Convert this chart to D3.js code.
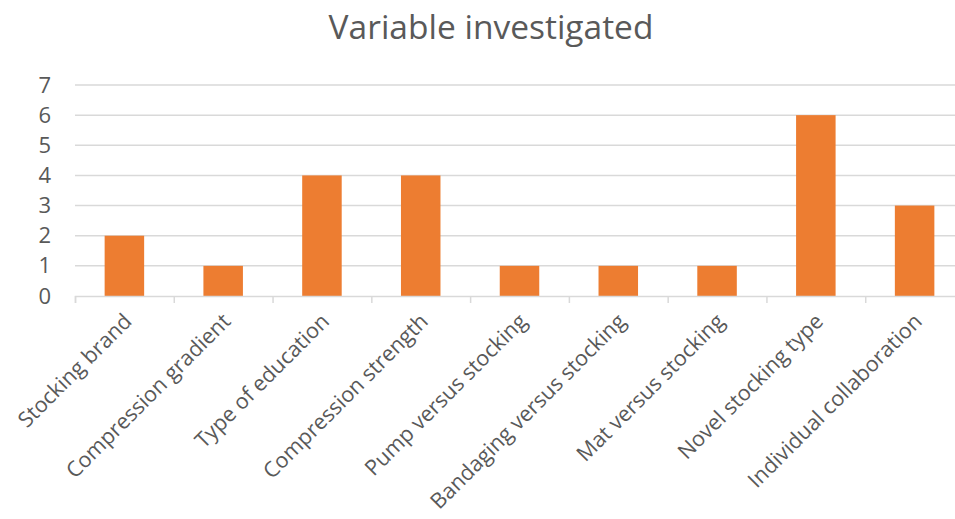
<!DOCTYPE html>
<html>
<head>
<meta charset="utf-8">
<script src="https://cdn.jsdelivr.net/npm/d3@7"></script>
<style>
  body { margin: 0; background: #fff; }
  text { font-family: "Open Sans", "Noto Sans", sans-serif; fill: #595959; }
</style>
</head>
<body>
<div id="chart"></div>
<script>
// Chart data
var categories = [
  "Stocking brand",
  "Compression gradient",
  "Type of education",
  "Compression strength",
  "Pump versus stocking",
  "Bandaging versus stocking",
  "Mat versus stocking",
  "Novel stocking type",
  "Individual collaboration"
];
var counts = [2, 1, 4, 4, 1, 1, 1, 6, 3];
var yTicks = [0, 1, 2, 3, 4, 5, 6, 7];

var svgWidth = 955;
var svgHeight = 519;

// plot area runs past the right edge, as in the original
var margin = { top: 85, left: 75 };
var width = 889;
var height = 211;

var svg = d3.select("#chart")
  .append("svg")
  .attr("width", svgWidth)
  .attr("height", svgHeight);

var chartGroup = svg.append("g")
  .attr("transform", `translate(${margin.left}, ${margin.top})`);

var xScale = d3.scaleBand()
  .domain(categories)
  .range([0, width])
  .paddingInner(0.6)
  .paddingOuter(0.3);

var yScale = d3.scaleLinear()
  .domain([0, 7])
  .range([height, 0]);

// gridlines
chartGroup.selectAll(".grid")
  .data(yTicks.slice(1))
  .enter()
  .append("line")
  .attr("x1", 0)
  .attr("x2", width)
  .attr("y1", d => yScale(d))
  .attr("y2", d => yScale(d))
  .attr("stroke", "#d9d9d9")
  .attr("stroke-width", 1.5);

// y axis labels
var leftAxis = d3.axisLeft(yScale).tickValues(yTicks).tickFormat(d3.format("d")).tickSize(0).tickPadding(24);
chartGroup.append("g")
  .call(leftAxis)
  .call(g => g.select(".domain").remove())
  .selectAll("text")
  .style("font-size", "22px")
  .attr("fill", "#595959");

// bars
chartGroup.selectAll("rect")
  .data(counts)
  .enter()
  .append("rect")
  .attr("x", (d, i) => xScale(categories[i]))
  .attr("y", d => yScale(d))
  .attr("width", xScale.bandwidth())
  .attr("height", d => height - yScale(d))
  .attr("fill", "#ed7d31");

// x axis line and ticks between categories
var bottomAxis = d3.axisBottom(d3.scaleLinear().domain([0, categories.length]).range([0, width]))
  .tickValues(d3.range(categories.length + 1))
  .tickSize(7)
  .tickFormat("");
var xAxis = chartGroup.append("g")
  .attr("transform", `translate(0, ${height})`)
  .call(bottomAxis);
xAxis.select(".domain").attr("stroke", "#d9d9d9").attr("stroke-width", 1.5);
xAxis.selectAll(".tick line").attr("stroke", "#d9d9d9").attr("stroke-width", 1.5);

// rotated category labels
chartGroup.selectAll(".xlabel")
  .data(categories)
  .enter()
  .append("text")
  .attr("transform", d => `translate(${xScale(d) + xScale.bandwidth() / 2 - 2}, ${height + 16}) rotate(-45)`)
  .attr("text-anchor", "end")
  .attr("dy", "0.7em")
  .style("font-size", "21.5px")
  .text(d => d);

// title
svg.append("text")
  .attr("x", 491)
  .attr("y", 39)
  .attr("text-anchor", "middle")
  .style("font-size", "33.5px")
  .text("Variable investigated");
</script>
</body>
</html>
